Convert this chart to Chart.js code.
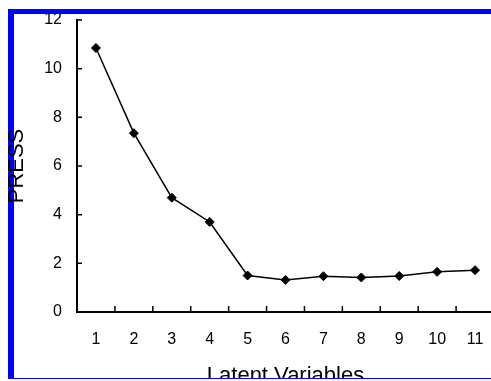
<!DOCTYPE html>
<html>
<head>
<meta charset="utf-8">
<script src="https://cdn.jsdelivr.net/npm/chart.js@4"></script>
<style>
  html, body { margin: 0; padding: 0; overflow: hidden; background: #fff; }
  #frame {
    position: absolute; left: 8px; top: 9px;
    width: 500px; height: 364px;
    border-left: 6px solid #0000ff;
    border-top: 5px solid #0000ff;
    border-bottom: 1px solid #0000ff;
  }
  #pressChart {
    position: absolute; left: 0; top: 0;
    clip-path: inset(14px 0 11px 0);
  }
</style>
</head>
<body>
<div id="frame"></div>
<canvas id="pressChart" width="500" height="389"></canvas>
<script>
const categories = ['1', '2', '3', '4', '5', '6', '7', '8', '9', '10', '11'];
const pressValues = [10.85, 7.35, 4.7, 3.7, 1.5, 1.32, 1.47, 1.42, 1.48, 1.65, 1.72];
const yTicks = [0, 2, 4, 6, 8, 10, 12];

Chart.defaults.font.family = 'Arial, "Liberation Sans", sans-serif';
Chart.defaults.color = '#000';

// ticks point inwards in the original, so draw them by hand
const innerTicks = {
    id: 'innerTicks',
    afterDraw(chart) {
        const { ctx, scales: { x, y } } = chart;
        ctx.save();
        ctx.strokeStyle = '#000';
        ctx.lineWidth = 1.5;
        ctx.beginPath();
        yTicks.forEach(v => {
            const py = y.getPixelForValue(v);
            ctx.moveTo(x.left, py);
            ctx.lineTo(x.left + 5, py);
        });
        for (let i = 0; i < categories.length; i++) {
            const px = (x.getPixelForValue(i) + x.getPixelForValue(i + 1)) / 2;
            ctx.moveTo(px, y.bottom);
            ctx.lineTo(px, y.bottom - 6);
        }
        ctx.stroke();
        ctx.restore();
    }
};

const ctx = document.getElementById('pressChart').getContext('2d');

const pressChart = new Chart(ctx, {
    type: 'line',
    data: {
        labels: categories,
        datasets: [{
            data: pressValues,
            borderColor: '#000',
            borderWidth: 1.5,
            backgroundColor: '#000',
            pointStyle: 'rectRot',
            pointRadius: 4.5,
            pointBorderWidth: 1,
            tension: 0
        }]
    },
    options: {
        responsive: false,
        animation: false,
        layout: { padding: { top: 20, right: 6, bottom: 0, left: 0 } },
        plugins: {
            legend: { display: false },
            tooltip: { enabled: false }
        },
        scales: {
            x: {
                type: 'category',
                offset: true,
                afterFit: s => {
                    s.height = 77;
                    s.paddingLeft = 0;
                    s.paddingRight = 0;
                },
                grid: { display: true, drawOnChartArea: false, drawTicks: false },
                border: { display: true, color: '#000', width: 2 },
                ticks: { font: { size: 16 }, padding: 18, maxRotation: 0 },
                title: {
                    display: true,
                    text: 'Latent Variables',
                    font: { size: 22 },
                    padding: 0
                }
            },
            y: {
                min: 0,
                max: 12,
                afterFit: s => {
                    s.width = 77;
                    s.paddingTop = 0;
                    s.paddingBottom = 0;
                },
                afterBuildTicks: s => { s.ticks = yTicks.map(v => ({ value: v })); },
                grid: { display: true, drawOnChartArea: false, drawTicks: false },
                border: { display: true, color: '#000', width: 2 },
                ticks: { font: { size: 16 }, padding: 15 },
                title: {
                    display: true,
                    text: 'PRESS',
                    font: { size: 22 },
                    padding: { top: 4, bottom: 0 }
                }
            }
        }
    },
    plugins: [innerTicks]
});
</script>
</body>
</html>
